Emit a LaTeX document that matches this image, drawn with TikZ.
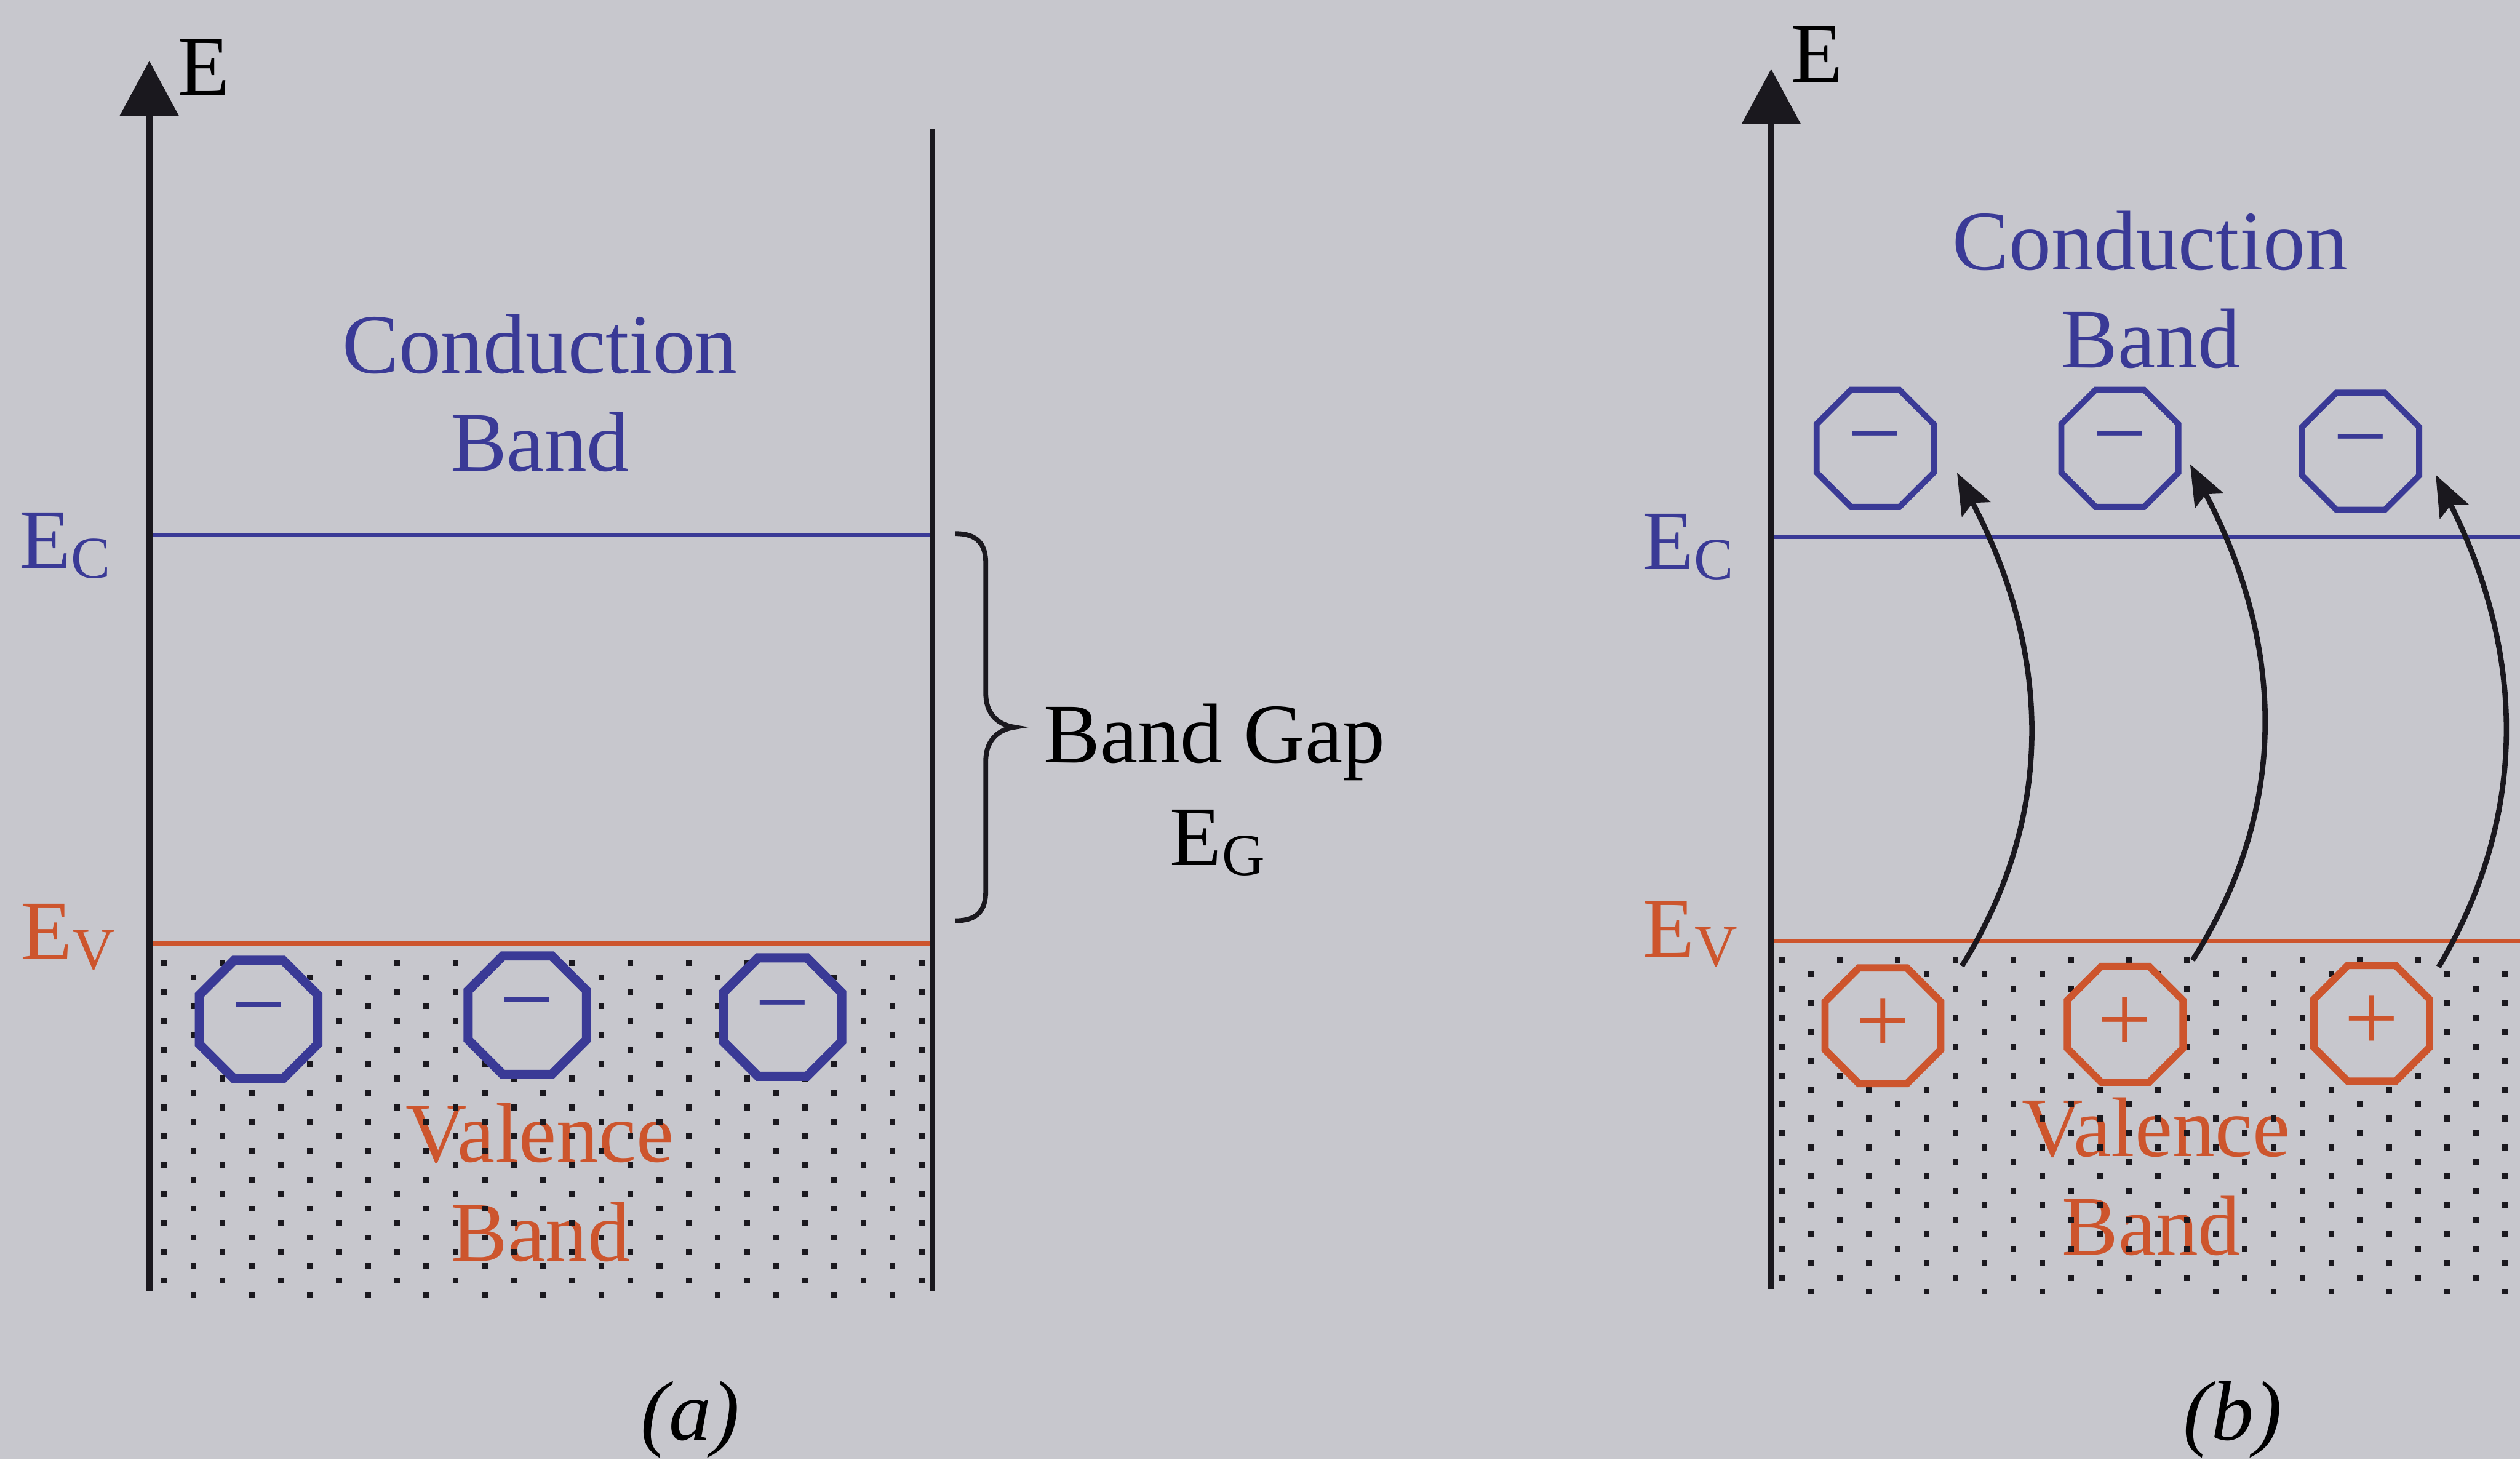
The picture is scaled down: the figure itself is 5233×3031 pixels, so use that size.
\documentclass[tikz,border=0pt]{standalone}
\usepackage{fontspec}
\setmainfont{Liberation Serif}
\usetikzlibrary{arrows.meta,shapes.geometric,calc}
\definecolor{bgc}{RGB}{199,199,205}
\definecolor{ink}{RGB}{26,24,30}
\definecolor{cband}{RGB}{58,58,150}
\definecolor{vband}{RGB}{205,85,45}
\newcommand\lowsub[1]{\raisebox{-0.2cm}{\fontsize{35}{40}\selectfont #1}}
\begin{document}
\begin{tikzpicture}[x=0.01cm,y=-0.01cm,
  every node/.style={inner sep=0pt,outer sep=0pt},
  lbl/.style={font=\fontsize{50}{60}\selectfont,anchor=base},
  lblw/.style={lbl,anchor=base west},
  octo/.style={regular polygon,regular polygon sides=8,fill=bgc,
    font=\fontsize{57}{60}\selectfont},
  axisline/.style={line width=0.14cm,ink,-{Triangle[length=1.15cm,width=1.2cm]}},
  carr/.style={line width=0.11cm,ink,-{Stealth[length=0.85cm,width=0.66cm,inset=0.15cm]}},
  cline/.style={line width=0.075cm,cband},
  vline/.style={line width=0.08cm,vband},
  dotc/.style={fill=ink}
]
\fill[bgc] (0,0) rectangle (5233,3031);
\useasboundingbox (0,0) rectangle (5233,3031);

% ---------- panel (a) ----------
\node[lbl,text=cband] (cA1) at (1121,775) {Conduction};
\node[lbl,text=cband] (cA2) at (1121,978) {Band};
\node[lbl,text=vband] (vA1) at (1121,2413) {Valence};
\node[lbl,text=vband] (vA2) at (1123,2619) {Band};
\foreach \i in {0,...,26}{
  \pgfmathsetmacro\xx{341+60.5*\i}
  \pgfmathsetmacro\yy{1999.5+30*mod(\i,2)}
  \foreach \j in {0,...,11}{
    \fill[dotc] ({\xx-6},{\yy+60*\j-6}) rectangle ++(12,12);
  }
}
\coordinate (ecA0) at (310,1111);
\coordinate (ecA1) at (1936,1111);
\coordinate (evA0) at (310,1959);
\coordinate (evA1) at (1936,1959);
\draw[cline] (ecA0) -- (ecA1);
\draw[vline] (evA0) -- (evA1);
\coordinate (rA0) at (1936,267);
\coordinate (rA1) at (1936,2682);
\draw[line width=0.11cm,ink] (rA0) -- (rA1);
\coordinate (axA0) at (310,2682);
\coordinate (axA1) at (310,126);
\draw[axisline] (axA0) -- (axA1);
\node[lblw] (eA) at (370,197) {E};
\node[lblw,text=cband] (ecA) at (40,1180) {E\lowsub{C}};
\node[lblw,text=vband] (evA) at (43,1993) {E\lowsub{V}};

\node[octo,draw=cband,line width=0.19cm,minimum size=2.66cm,text=cband] (eA1) at (537,2117) {−};
\node[octo,draw=cband,line width=0.19cm,minimum size=2.66cm,text=cband] (eA2) at (1095,2108) {−};
\node[octo,draw=cband,line width=0.19cm,minimum size=2.66cm,text=cband] (eA3) at (1625,2112) {−};

% brace
\draw[line width=0.1cm,ink] (1984,1108) .. controls (2030,1108) and (2047,1130) .. (2047,1170)
  -- (2047,1440) .. controls (2047,1480) and (2070,1505) .. (2107,1510)
  .. controls (2070,1515) and (2047,1540) .. (2047,1580)
  -- (2047,1850) .. controls (2047,1890) and (2030,1912) .. (1984,1912);
\node[lbl] (gap1) at (2522,1583) {Band Gap};
\node[lbl] (gap2) at (2528,1797) {E\lowsub{G}};

\node[lbl,font=\fontsize{50}{60}\selectfont\itshape] (capA) at (1433,2990) {(a)};

% ---------- panel (b) ----------
\node[lbl,text=cband] (cB1) at (4465,560) {Conduction};
\node[lbl,text=cband] (cB2) at (4466,763) {Band};
\node[lbl,text=vband] (vB1) at (4477,2401) {Valence};
\node[lbl,text=vband] (vB2) at (4467,2605) {Band};
\foreach \i in {0,...,25}{
  \pgfmathsetmacro\xx{3701+60*\i}
  \pgfmathsetmacro\yy{1993.5+29*mod(\i,2)}
  \foreach \j in {0,...,11}{
    \fill[dotc] ({\xx-6},{\yy+60*\j-6}) rectangle ++(12,12);
  }
}
\coordinate (ecB0) at (3678,1115);
\coordinate (ecB1) at (5233,1115);
\coordinate (evB0) at (3678,1955);
\coordinate (evB1) at (5233,1955);
\draw[cline] (ecB0) -- (ecB1);
\draw[vline] (evB0) -- (evB1);
\coordinate (axB0) at (3678,2676);
\coordinate (axB1) at (3678,143);
\draw[axisline] (axB0) -- (axB1);
\node[lblw] (eB) at (3720,170) {E};
\node[lblw,text=cband] (ecB) at (3410,1183) {E\lowsub{C}};
\node[lblw,text=vband] (evB) at (3412,1987) {E\lowsub{V}};

\node[octo,draw=cband,line width=0.125cm,minimum size=2.63cm,text=cband] (eB1) at (3894,931) {−};
\node[octo,draw=cband,line width=0.125cm,minimum size=2.63cm,text=cband] (eB2) at (4402,931) {−};
\node[octo,draw=cband,line width=0.125cm,minimum size=2.63cm,text=cband] (eB3) at (4902,937) {−};
\node[octo,draw=vband,line width=0.15cm,minimum size=2.6cm,text=vband] (hB1) at (3910,2130) {+};
\node[octo,draw=vband,line width=0.15cm,minimum size=2.6cm,text=vband] (hB2) at (4413,2127) {+};
\node[octo,draw=vband,line width=0.15cm,minimum size=2.6cm,text=vband] (hB3) at (4925,2125) {+};

\coordinate (s1) at ($(hB1)+(164,-124)$);
\coordinate (t1) at ($(eB1)+(170,51)$);
\coordinate (s2) at ($(hB2)+(140,-133)$);
\coordinate (t2) at ($(eB2)+(146,33)$);
\coordinate (s3) at ($(hB3)+(139,-117)$);
\coordinate (t3) at ($(eB3)+(156,49)$);
\draw[carr] (s1) .. controls +(215,-345) and +(175,335) .. (t1);
\draw[carr] (s2) .. controls +(220,-345) and +(178,340) .. (t2);
\draw[carr] (s3) .. controls +(205,-345) and +(168,335) .. (t3);

\node[lbl,font=\fontsize{50}{60}\selectfont\itshape] (capB) at (4636,2990) {(b)};
\end{tikzpicture}
\end{document}
